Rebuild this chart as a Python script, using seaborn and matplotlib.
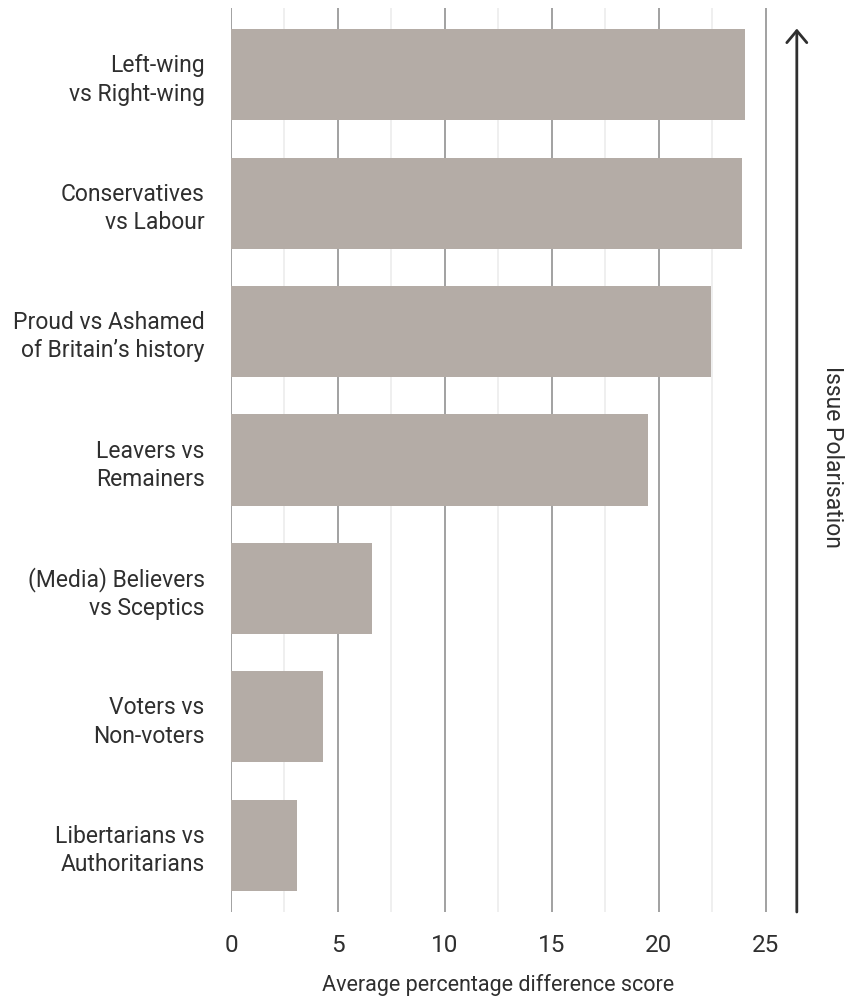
import matplotlib
matplotlib.use("Agg")
import matplotlib.pyplot as plt
from matplotlib.transforms import blended_transform_factory
import seaborn as sns
import pandas as pd

# Divides between groups, largest first
groups = [
    "Left-wing\nvs Right-wing",
    "Conservatives\nvs Labour",
    "Proud vs Ashamed\nof Britain\u2019s history",
    "Leavers vs\nRemainers",
    "(Media) Believers\nvs Sceptics",
    "Voters vs\nNon-voters",
    "Libertarians vs\nAuthoritarians",
]
scores = [24.0, 23.9, 22.45, 19.5, 6.6, 4.3, 3.07]
major_ticks = [0, 5, 10, 15, 20, 25]
minor_ticks = [2.5, 7.5, 12.5, 17.5, 22.5]

df = pd.DataFrame({"group": groups, "score": scores})

sns.set_style("white")
plt.rcParams["font.family"] = ["Roboto", "DejaVu Sans"]
text_color = "#2f2f2f"

W, H = 862, 998
fig = plt.figure(figsize=(W / 100, H / 100), dpi=100)
left_px, right_px, top_px, bottom_px = 231, 850, 8, 912
ax = fig.add_axes([left_px / W, 1 - bottom_px / H,
                   (right_px - left_px) / W, (bottom_px - top_px) / H])

sns.barplot(data=df, x="score", y="group", orient="h", color="#b4aca6",
            saturation=1, width=0.71, linewidth=0, edgecolor="none",
            ax=ax, zorder=3)

px_per_unit = 21.4
ax.set_xlim(0, (right_px - left_px) / px_per_unit)
ax.set_ylim(6.52, -0.52)

ax.set_xticks(major_ticks)
ax.set_xticks(minor_ticks, minor=True)
ax.grid(False)
for v in major_ticks:
    ax.axvline(v, color="#9a9a9a", lw=1.3, zorder=1)
for v in minor_ticks:
    ax.axvline(v, color="#ececec", lw=1.2, zorder=1)

for s in ax.spines.values():
    s.set_visible(False)

ax.tick_params(axis="x", which="both", length=0, pad=16,
               labelsize=17.5, labelcolor=text_color)
ax.tick_params(axis="y", length=0, pad=19, labelsize=16.5,
               labelcolor=text_color)
for lbl in ax.get_yticklabels():
    lbl.set_linespacing(1.3)
    lbl.set_horizontalalignment("right")

ax.set_xlabel("")
ax.set_ylabel("")

trans = blended_transform_factory(ax.transData, fig.transFigure)
ax.text(12.5, 1 - 985 / H, "Average percentage difference score",
        transform=trans, ha="center", va="center", fontsize=15.5,
        color=text_color)

# Direction of increasing polarisation
ax.annotate("", xy=(26.44, -0.36), xytext=(26.44, 6.52),
            arrowprops=dict(arrowstyle="->,head_length=0.43,head_width=0.36",
                            color="#2f2f2f", lw=2.0,
                            mutation_scale=20, shrinkA=0, shrinkB=0),
            annotation_clip=False)
ax.text(28.1, 2.98, "Issue Polarisation", rotation=-90, ha="center",
        va="center", fontsize=16.5, color=text_color)

fig.savefig("out.png", dpi=100)
